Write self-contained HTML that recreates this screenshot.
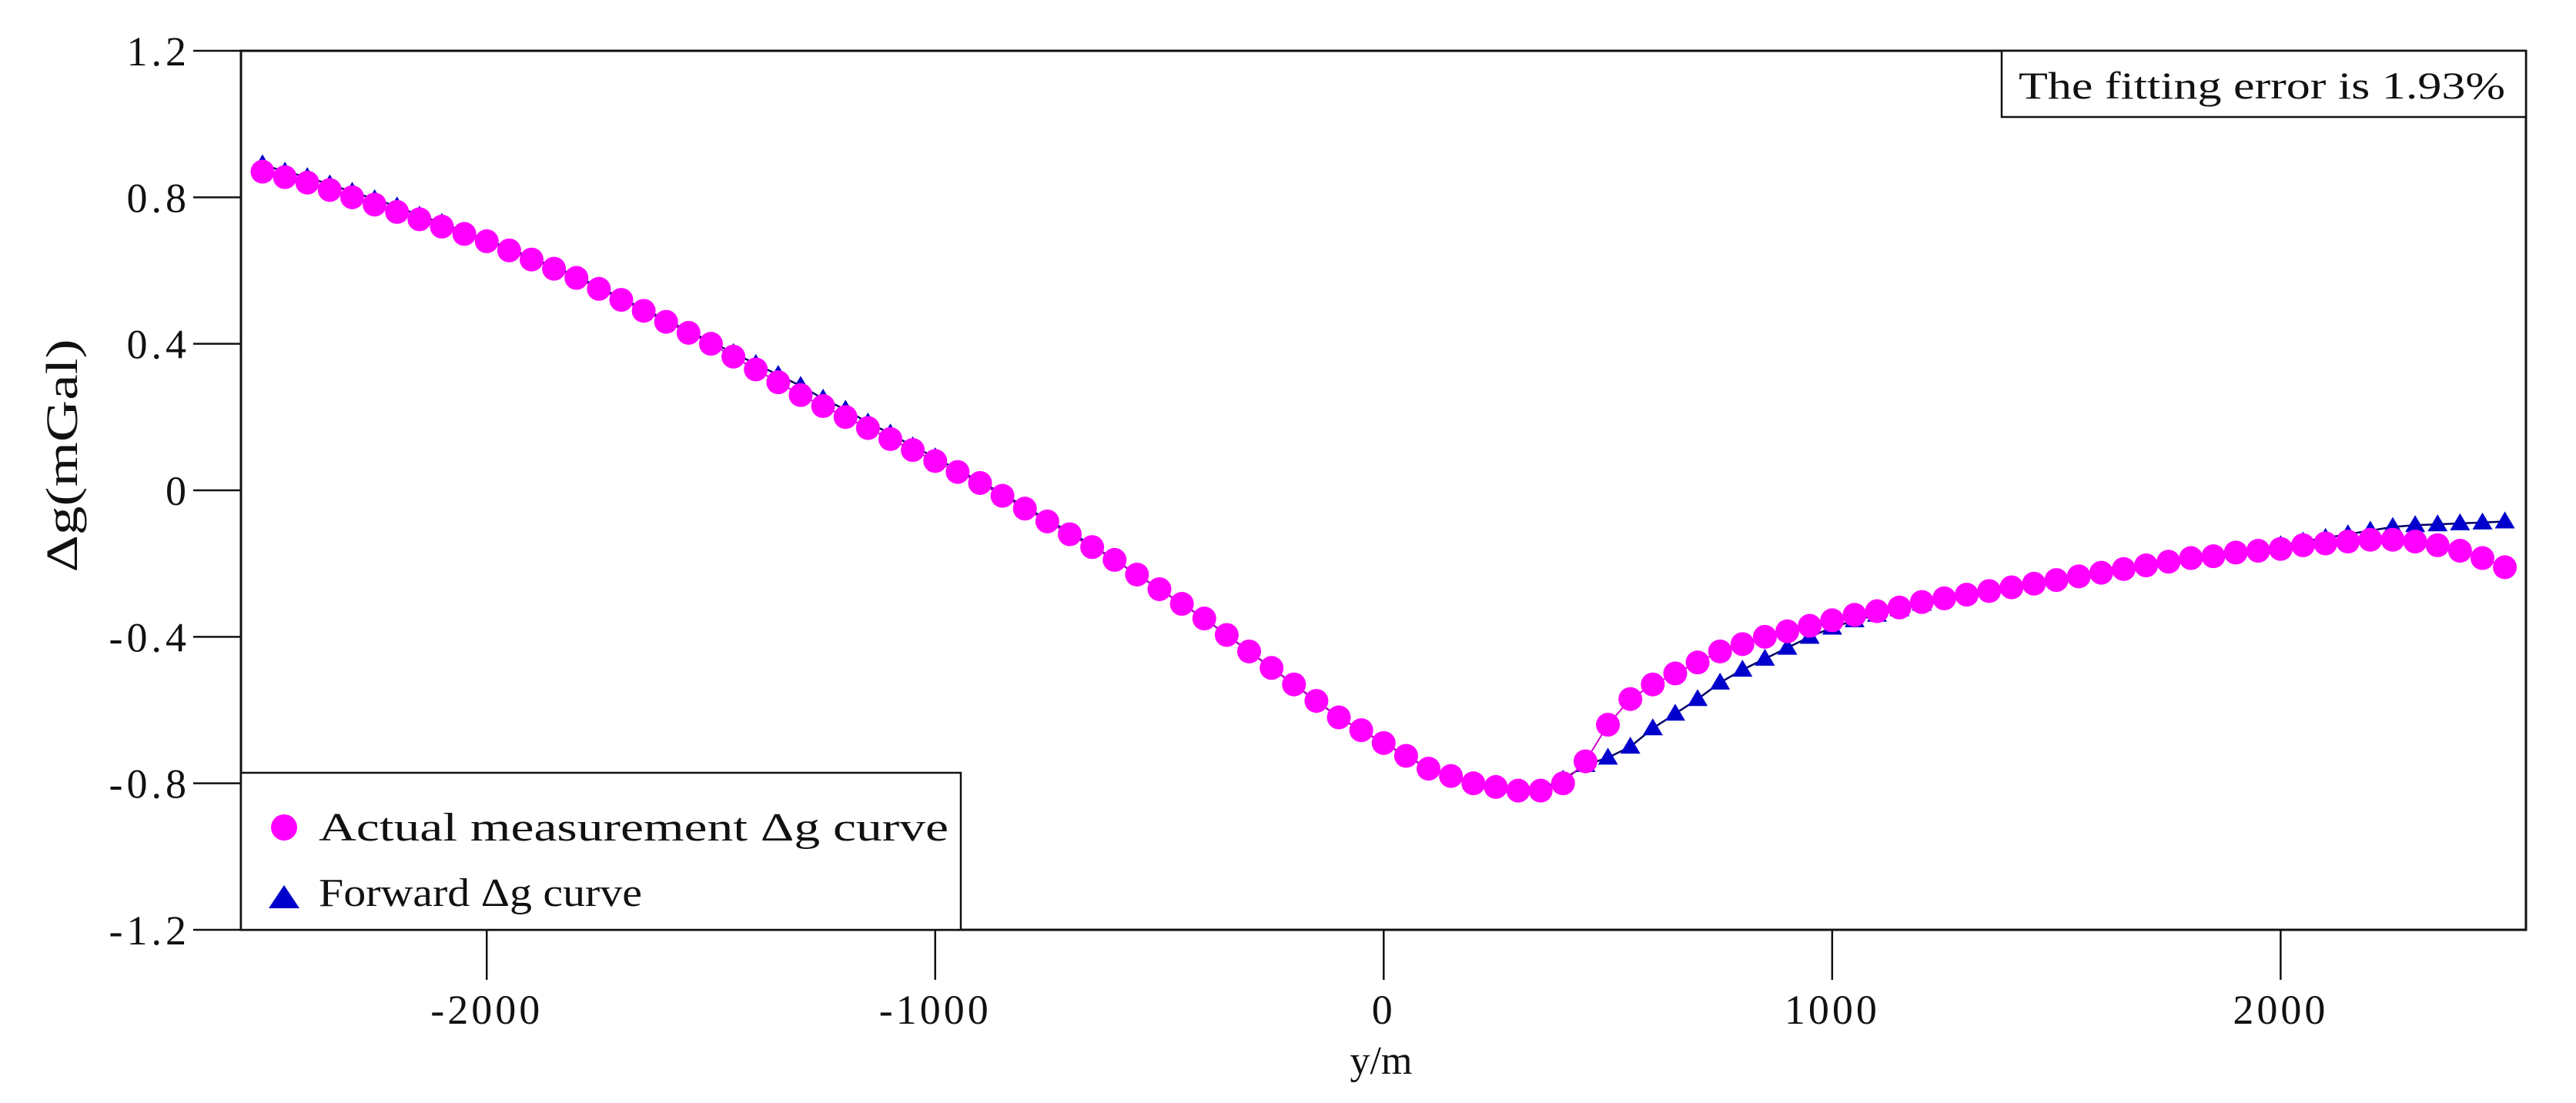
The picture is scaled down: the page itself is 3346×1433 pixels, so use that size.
<!DOCTYPE html>
<html><head><meta charset="utf-8"><style>
html,body{margin:0;padding:0;background:#fff;}
svg{display:block;}
text{font-family:"Liberation Serif","DejaVu Serif",serif;fill:#111;}
</style></head><body>
<svg id="chart" width="3346" height="1433" viewBox="0 0 3346 1433" xmlns="http://www.w3.org/2000/svg">
<rect x="0" y="0" width="3346" height="1433" fill="#fff"/>
<g id="grid"></g>
<g id="series"></g>
<rect x="313" y="66" width="2968" height="1142" fill="none" stroke="#111" stroke-width="3"/>
<g id="axes"></g>
<text transform="translate(100,592) rotate(-90)" text-anchor="middle" font-size="58" textLength="303" lengthAdjust="spacingAndGlyphs" font-family="Liberation Sans, sans-serif">Δg(mGal)</text>
<text x="1794" y="1395" text-anchor="middle" font-size="52">y/m</text>
<g>
<rect x="2600" y="66" width="681" height="86" fill="#fff" stroke="#111" stroke-width="2.5"/>
<text x="2622" y="128" font-size="50" textLength="632" lengthAdjust="spacingAndGlyphs">The fitting error is 1.93%</text>
</g>
<g>
<rect x="313" y="1004" width="935" height="204" fill="#fff" stroke="#111" stroke-width="2.5"/>
<g>
<circle cx="369" cy="1075" r="17" fill="#ff00ff"/>
<text x="414" y="1092" font-size="52" textLength="818" lengthAdjust="spacingAndGlyphs">Actual measurement Δg curve</text>
</g>
<g>
<polygon points="349,1180 389,1180 369,1150" fill="#0000cc"/>
<text x="414" y="1177" font-size="52" textLength="420" lengthAdjust="spacingAndGlyphs">Forward Δg curve</text>
</g>
</g>
</svg>
<script>
const xValues = [];
for (let k = 0; k <= 100; k++) xValues.push(-2500 + 50 * k);
const actualValues = [0.87,0.855,0.84,0.82,0.80,0.78,0.76,0.74,0.72,0.70,0.68,0.655,0.63,0.605,0.58,0.55,0.52,0.49,0.46,0.43,0.40,0.365,0.33,0.295,0.26,0.23,0.20,0.17,0.14,0.11,0.08,0.05,0.02,-0.015,-0.05,-0.085,-0.12,-0.155,-0.19,-0.23,-0.27,-0.31,-0.35,-0.395,-0.44,-0.485,-0.53,-0.575,-0.62,-0.655,-0.69,-0.725,-0.76,-0.78,-0.80,-0.81,-0.82,-0.82,-0.80,-0.74,-0.64,-0.57,-0.53,-0.50,-0.47,-0.44,-0.42,-0.40,-0.385,-0.37,-0.355,-0.34,-0.33,-0.32,-0.305,-0.295,-0.285,-0.275,-0.265,-0.255,-0.245,-0.235,-0.225,-0.215,-0.205,-0.195,-0.185,-0.18,-0.17,-0.165,-0.16,-0.15,-0.145,-0.14,-0.135,-0.135,-0.14,-0.15,-0.165,-0.185,-0.21];
const forwardValues = [0.89,0.87,0.855,0.835,0.815,0.795,0.775,0.75,0.73,0.705,0.685,0.66,0.635,0.61,0.585,0.555,0.525,0.495,0.465,0.435,0.405,0.375,0.345,0.315,0.285,0.25,0.22,0.185,0.155,0.12,0.09,0.055,0.025,-0.01,-0.045,-0.08,-0.115,-0.15,-0.19,-0.23,-0.27,-0.31,-0.35,-0.395,-0.44,-0.485,-0.53,-0.575,-0.62,-0.655,-0.69,-0.725,-0.76,-0.78,-0.80,-0.81,-0.82,-0.815,-0.79,-0.75,-0.73,-0.70,-0.65,-0.61,-0.57,-0.525,-0.49,-0.46,-0.43,-0.40,-0.375,-0.355,-0.34,-0.325,-0.31,-0.295,-0.285,-0.275,-0.265,-0.255,-0.245,-0.235,-0.225,-0.215,-0.205,-0.195,-0.185,-0.175,-0.165,-0.16,-0.15,-0.14,-0.13,-0.12,-0.11,-0.10,-0.095,-0.093,-0.09,-0.088,-0.085];
const xTicks = [-2000,-1000,0,1000,2000];
const xTickLabels = ["-2000","-1000","0","1000","2000"];
const yTicks = [1.2,0.8,0.4,0,-0.4,-0.8,-1.2];
const yTickLabels = ["1.2","0.8","0.4","0","-0.4","-0.8","-1.2"];

const NS = "http://www.w3.org/2000/svg";
const X0 = 313, X1 = 3281, Y0 = 66, Y1 = 1208;
const xMin = -2548, xMax = 2547, yMin = -1.2, yMax = 1.2;
function sx(v){ return X0 + (v - xMin) / (xMax - xMin) * (X1 - X0); }
function sy(v){ return Y1 - (v - yMin) / (yMax - yMin) * (Y1 - Y0); }
function mk(tag, attrs, parent){ const e = document.createElementNS(NS, tag); for (const k in attrs) e.setAttribute(k, attrs[k]); parent.appendChild(e); return e; }

const axes = document.getElementById("axes");
xTicks.forEach((t, i) => {
  const g = mk("g", {}, axes);
  
  
  mk("line", {x1: sx(t), x2: sx(t), y1: Y1, y2: Y1 + 65, stroke: "#111", "stroke-width": 2.5}, g);
  const tx = mk("text", {x: sx(t), y: 1330, "text-anchor": "middle", "font-size": 54, "letter-spacing": 4}, g);
  tx.textContent = xTickLabels[i];
});
yTicks.forEach((t, i) => {
  const g = mk("g", {}, axes);
  
  
  mk("line", {x1: 251, x2: X0, y1: sy(t), y2: sy(t), stroke: "#111", "stroke-width": 2.5}, g);
  const tx = mk("text", {x: 247, y: sy(t) + 19, "text-anchor": "end", "font-size": 54, "letter-spacing": 5}, g);
  tx.textContent = yTickLabels[i];
});

const series = document.getElementById("series");
const fg = mk("g", {}, series);


const fpts = xValues.map((x, i) => sx(x) + "," + sy(forwardValues[i])).join(" ");
const fl = mk("polyline", {points: fpts, fill: "none", stroke: "#000066", "stroke-width": 2.5}, fg);


xValues.forEach((x, i) => {
  const cx = sx(x), cy = sy(forwardValues[i]);
  const p = mk("polygon", {points: (cx-13)+","+(cy+9)+" "+(cx+13)+","+(cy+9)+" "+cx+","+(cy-13), fill: "#0000cc"}, fg);
  
  
});
const ag = mk("g", {}, series);


const apts = xValues.map((x, i) => sx(x) + "," + sy(actualValues[i])).join(" ");
const al = mk("polyline", {points: apts, fill: "none", stroke: "#cc00cc", "stroke-width": 2}, ag);


xValues.forEach((x, i) => {
  const c = mk("circle", {cx: sx(x), cy: sy(actualValues[i]), r: 15.5, fill: "#ff00ff"}, ag);
  
  
});
</script>
</body></html>
